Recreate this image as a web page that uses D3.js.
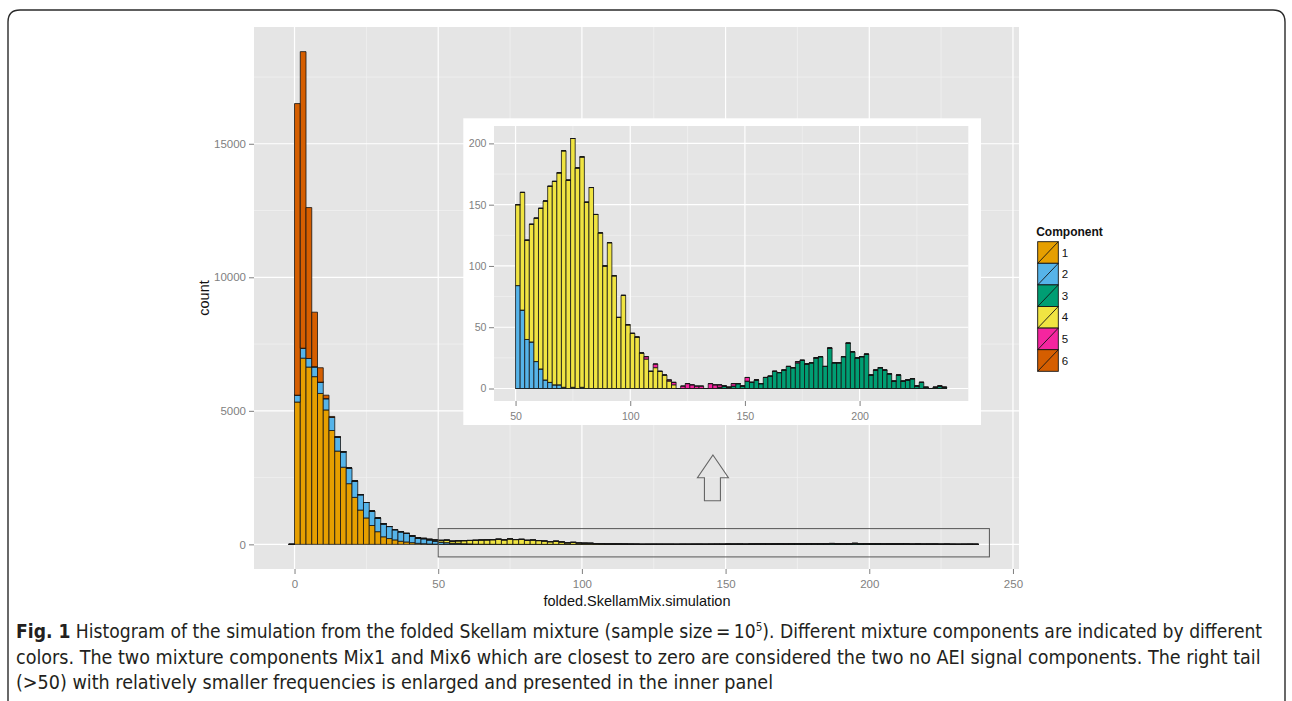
<!DOCTYPE html>
<html>
<head>
<meta charset="utf-8">
<script src="https://cdn.jsdelivr.net/npm/d3@7"></script>
<style>
  body { margin: 0; background: #fff; }
  svg { display: block; }
</style>
</head>
<body>
<svg id="chart" width="1292" height="701"></svg>
<script>
let binWidth = 2;
let components = ["1", "2", "3", "4", "5", "6"];
let compColors = ["#E69F00", "#56B4E9", "#009E73", "#F0E442", "#F5259F", "#D55E00"];

// head of the distribution: bins -2 .. 48
let headStarts = [-2, 0, 2, 4, 6, 8, 10, 12, 14, 16, 18, 20, 22, 24, 26, 28, 30, 32, 34, 36, 38, 40, 42, 44, 46, 48];
let headC1 = [0, 5330, 6973, 6639, 6280, 5650, 5034, 4263, 3493, 2889, 2273, 1759, 1284, 989, 706, 475, 283, 218, 167, 116, 90, 64, 39, 25, 14, 8];
let headC2 = [0, 257, 373, 321, 372, 424, 424, 488, 526, 578, 591, 617, 578, 578, 540, 514, 488, 450, 385, 359, 319, 253, 198, 186, 152, 117];
let headC4 = [0, 0, 0, 0, 0, 0, 0, 0, 0, 0, 0, 0, 0, 0, 0, 0, 0, 0, 0, 0, 2, 4, 8, 14, 24, 40];
let headC6 = [0, 10918, 11104, 5651, 2042, 540, 128, 39, 10, 0, 0, 0, 0, 0, 0, 0, 0, 0, 0, 0, 0, 0, 0, 0, 0, 0];

// right tail (>50): bins 50 .. 236
let tailStarts = d3.range(50, 238, 2);
let tailC2 = [84, 64, 40, 38, 22, 16, 7, 5, 3, 3,
  1, 0, 1, 0, 1, 0, 0, 0, 0, 0,
  0, 0, 0, 0, 0, 0, 0, 0, 0, 0,
  0, 0, 0, 0, 0, 0, 0, 0, 0, 0,
  0, 0, 0, 0, 0, 0, 0, 0, 0, 0,
  0, 0, 0, 0, 0, 0, 0, 0, 0, 0,
  0, 0, 0, 0, 0, 0, 0, 0, 0, 0,
  0, 0, 0, 0, 0, 0, 0, 0, 0, 0,
  0, 0, 0, 0, 0, 0, 0, 0, 0, 0,
  0, 0, 0, 0];
let tailC3 = [0, 0, 0, 0, 0, 0, 0, 0, 0, 0,
  0, 0, 0, 0, 0, 0, 0, 0, 0, 0,
  0, 0, 0, 0, 0, 0, 0, 0, 0, 0,
  0, 0, 0, 0, 0, 0, 0, 0, 0, 0,
  0, 0, 0, 0, 1, 2, 1, 2, 4, 2,
  6, 5, 7, 4, 9, 10, 14, 13, 15, 18,
  17, 21, 23, 20, 21, 25, 26, 18, 33, 21,
  21, 26, 37, 30, 25, 26, 28, 11, 15, 17,
  15, 12, 6, 11, 6, 7, 8, 2, 5, 1,
  0, 1, 2, 1];
let tailC4 = [66, 96, 81, 96, 117, 131, 146, 160, 166, 173,
  193, 170, 203, 180, 188, 152, 164, 142, 127, 100,
  119, 92, 58, 76, 52, 45, 42, 29, 24, 14,
  17, 14, 11, 6, 3, 0, 0, 0, 0, 0,
  0, 0, 0, 0, 0, 0, 0, 0, 0, 0,
  0, 0, 0, 0, 0, 0, 0, 0, 0, 0,
  0, 0, 0, 0, 0, 0, 0, 0, 0, 0,
  0, 0, 0, 0, 0, 0, 0, 0, 0, 0,
  0, 0, 0, 0, 0, 0, 0, 0, 0, 0,
  0, 0, 0, 0];
let tailC5 = [0, 0, 0, 0, 0, 0, 0, 0, 0, 0,
  0, 0, 0, 0, 0, 0, 0, 0, 0, 0,
  0, 0, 0, 0, 0, 0, 0, 0, 2, 0,
  3, 0, 0, 1, 2, 0, 2, 4, 3, 2,
  2, 0, 4, 3, 2, 0, 0, 2, 0, 0,
  3, 0, 0, 0, 0, 0, 0, 0, 0, 0,
  0, 1, 0, 0, 0, 0, 0, 0, 0, 0,
  0, 0, 0, 0, 0, 0, 0, 0, 0, 0,
  0, 0, 0, 0, 0, 0, 0, 0, 0, 0,
  0, 0, 0, 0];

let mainExtent = [-2, 240];
let mainXTicks = [0, 50, 100, 150, 200, 250];
let mainXMinor = [25, 75, 125, 175, 225];
let mainYTicks = [0, 5000, 10000, 15000];
let mainYMinor = [2500, 7500, 12500, 17500];
let insetXTicks = [50, 100, 150, 200];
let insetXMinor = [75, 125, 175, 225];
let insetYTicks = [0, 50, 100, 150, 200];
let insetYMinor = [25, 75, 125, 175];

let caption = [
  [{ t: "Fig. 1", b: true }, { t: " Histogram of the simulation from the folded Skellam mixture (sample size\u2009=\u200910" }, { t: "5", sup: true }, { t: "). Different mixture components are indicated by different", after: true }],
  [{ t: "colors. The two mixture components Mix1 and Mix6 which are closest to zero are considered the two no AEI signal components. The right tail" }],
  [{ t: "(>50) with relatively smaller frequencies is enlarged and presented in the inner panel" }]
];

//build rows
function makeRows(starts, cols) {
  return starts.map((s, i) => {
    let row = { x0: s };
    components.forEach((c, k) => { row[c] = cols[k] ? cols[k][i] : 0; });
    return row;
  });
}
let headRows = makeRows(headStarts, [headC1, headC2, null, headC4, null, headC6]);
let tailRows = makeRows(tailStarts, [null, tailC2, tailC3, tailC4, tailC5, null]);
let mainRows = headRows.concat(tailRows);

let stack = d3.stack().keys(components);
let mainSeries = stack(mainRows);
let tailSeries = stack(tailRows);

let svg = d3.select("#chart");
let axisFont = "'Liberation Sans', Arial, Helvetica, sans-serif";

// outer frame
svg.append("path")
  .attr("d", "M8,705V22Q8,10 20,10H1273Q1285,10 1285,22V705")
  .attr("fill", "none")
  .attr("stroke", "#2a2a2a")
  .attr("stroke-width", 1.4);

function expand(lo, hi) {
  let pad = (hi - lo) * 0.05;
  return [lo - pad, hi + pad];
}

function drawPanel(g, xs, ys, xMajor, xMinor, yMajor, yMinor) {
  let [x0, x1] = xs.range();
  let [y1, y0] = ys.range();
  g.append("rect").attr("x", x0).attr("y", y0).attr("width", x1 - x0).attr("height", y1 - y0)
    .attr("fill", "#E5E5E5");
  g.selectAll(".vminor").data(xMinor).enter().append("line")
    .attr("x1", d => xs(d)).attr("x2", d => xs(d)).attr("y1", y0).attr("y2", y1)
    .attr("stroke", "#F2F2F2").attr("stroke-width", 0.7);
  g.selectAll(".hminor").data(yMinor).enter().append("line")
    .attr("y1", d => ys(d)).attr("y2", d => ys(d)).attr("x1", x0).attr("x2", x1)
    .attr("stroke", "#F2F2F2").attr("stroke-width", 0.7);
  g.selectAll(".vmajor").data(xMajor).enter().append("line")
    .attr("x1", d => xs(d)).attr("x2", d => xs(d)).attr("y1", y0).attr("y2", y1)
    .attr("stroke", "#fff").attr("stroke-width", 1.2);
  g.selectAll(".hmajor").data(yMajor).enter().append("line")
    .attr("y1", d => ys(d)).attr("y2", d => ys(d)).attr("x1", x0).attr("x2", x1)
    .attr("stroke", "#fff").attr("stroke-width", 1.2);
}

function drawAxes(g, xs, ys, xMajor, yMajor, size, padX, padY) {
  let [y1] = ys.range();
  let [x0] = xs.range();
  let ax = g.append("g").attr("transform", `translate(0,${y1})`)
    .call(d3.axisBottom(xs).tickValues(xMajor).tickFormat(d => d).tickSize(5).tickPadding(padX));
  let ay = g.append("g").attr("transform", `translate(${x0},0)`)
    .call(d3.axisLeft(ys).tickValues(yMajor).tickFormat(d => d).tickSize(5).tickPadding(padY));
  [ax, ay].forEach(a => {
    a.select(".domain").remove();
    a.selectAll("line").attr("stroke", "#7F7F7F");
    a.selectAll("text").attr("fill", "#7F7F7F").attr("font-size", size).attr("font-family", axisFont);
  });
}

function drawBars(g, series, xs, ys) {
  series.forEach((s, k) => {
    g.append("g").selectAll("path").data(s).enter().append("path")
      .attr("d", d => {
        let a = xs(d.data.x0), b = xs(d.data.x0 + binWidth);
        return `M${a},${ys(d[0])}V${ys(d[1])}H${b}V${ys(d[0])}Z`;
      })
      .attr("fill", compColors[k])
      .attr("stroke", "#151515")
      .attr("stroke-width", 0.8)
      .attr("stroke-linejoin", "miter");
  });
}

//main chart
let mainMax = d3.max(mainRows, r => d3.sum(components, c => r[c]));
let xMain = d3.scaleLinear().domain(expand(mainExtent[0], mainExtent[1])).range([254, 1019]);
let yMain = d3.scaleLinear().domain(expand(0, mainMax)).range([569, 27]);

let mainG = svg.append("g");
drawPanel(mainG, xMain, yMain, mainXTicks, mainXMinor, mainYTicks, mainYMinor);
drawBars(mainG, mainSeries, xMain, yMain);
drawAxes(mainG, xMain, yMain, mainXTicks, mainYTicks, 11.5, 6, 3);

// box around the enlarged tail
mainG.append("rect")
  .attr("x", xMain(50)).attr("y", yMain(590))
  .attr("width", xMain(241.8) - xMain(50))
  .attr("height", yMain(-470) - yMain(590))
  .attr("fill", "none").attr("stroke", "#555").attr("stroke-width", 1);

// hollow arrow pointing to the inset
let ax = xMain(145.6), ay = 455;
mainG.append("path")
  .attr("d", `M${ax},${ay}L${ax + 15.5},${ay + 22.7}H${ax + 7.5}V${ay + 45.7}H${ax - 8.5}V${ay + 22.7}H${ax - 15.5}Z`)
  .attr("fill", "none").attr("stroke", "#666").attr("stroke-width", 1.1);

// axis titles
svg.append("text")
  .attr("x", 637).attr("y", 606)
  .attr("text-anchor", "middle")
  .attr("font-family", axisFont).attr("font-size", 14.5).attr("fill", "#111")
  .text("folded.SkellamMix.simulation");
svg.append("text")
  .attr("transform", "translate(208.5,298) rotate(-90)")
  .attr("text-anchor", "middle")
  .attr("font-family", axisFont).attr("font-size", 14.5).attr("fill", "#111")
  .text("count");

//inset
let insetMax = d3.max(tailRows, r => d3.sum(components, c => r[c]));
let xInset = d3.scaleLinear().domain(expand(tailStarts[0], tailStarts[tailStarts.length - 1] + binWidth)).range([494, 968.3]);
let yInset = d3.scaleLinear().domain(expand(0, insetMax)).range([401, 126]);

let insetG = svg.append("g");
insetG.append("rect").attr("x", 463.3).attr("y", 118.3).attr("width", 517.7).attr("height", 306.7).attr("fill", "#fff");
drawPanel(insetG, xInset, yInset, insetXTicks, insetXMinor, insetYTicks, insetYMinor);
drawBars(insetG, tailSeries, xInset, yInset);
drawAxes(insetG, xInset, yInset, insetXTicks, insetYTicks, 10.6, 6, 2.5);

//legend
let legend = svg.append("g").attr("transform", "translate(1037.7,241.7)");
let keyW = 20.6, keyH = 21.6;
legend.append("text")
  .attr("x", -1.5).attr("y", -6)
  .attr("font-family", axisFont).attr("font-size", 12).attr("font-weight", "bold").attr("fill", "#111")
  .text("Component");
components.forEach((c, i) => {
  let k = legend.append("g").attr("transform", `translate(0,${i * keyH})`);
  k.append("rect").attr("width", keyW).attr("height", keyH)
    .attr("fill", compColors[i]).attr("stroke", "#151515").attr("stroke-width", 0.9);
  k.append("line").attr("x1", 0).attr("y1", keyH).attr("x2", keyW).attr("y2", 0)
    .attr("stroke", "#151515").attr("stroke-width", 0.9);
  k.append("text").attr("x", keyW + 3.5).attr("y", keyH / 2).attr("dy", "0.36em")
    .attr("font-family", axisFont).attr("font-size", 11.5).attr("fill", "#111")
    .text(c);
});

//caption, squeezed to the measured line widths
let capFont = "'Liberation Sans Narrow', 'DejaVu Sans Condensed', Roboto, sans-serif";
let capBase = [638, 663.5, 689];
let capWidth = [1247, 1246, null];
let lastScale = 1;
caption.forEach((parts, i) => {
  let g = svg.append("g");
  let t = g.append("text").attr("font-family", capFont).attr("font-size", 19.5).attr("fill", "#231F20");
  parts.forEach(p => {
    if (p.sup) {
      t.append("tspan").attr("font-size", 12).attr("dy", -7.5).text(p.t);
    } else {
      let sp = t.append("tspan").text(p.t);
      if (p.b) sp.attr("font-weight", "bold");
      if (p.after) sp.attr("dy", 7.5);
    }
  });
  let w = t.node().getBBox().width;
  let sx = capWidth[i] ? capWidth[i] / w : lastScale;
  lastScale = sx;
  g.attr("transform", `translate(16,${capBase[i]}) scale(${sx},1)`);
});
</script>
</body>
</html>
